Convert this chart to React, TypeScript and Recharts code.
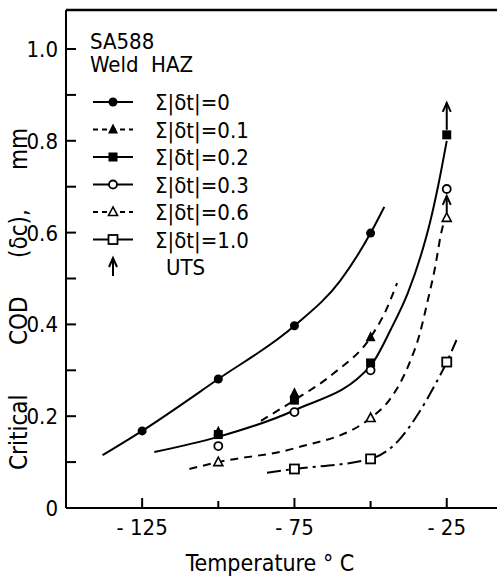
import { ComposedChart, Legend, Line, ReferenceLine, Scatter, XAxis, YAxis } from "recharts";

// axis ticks
const xTicks = [-125, -100, -75, -50, -25];
const xLabeled = [-125, -75, -25];
const yTicks = [0, 0.1, 0.2, 0.3, 0.4, 0.5, 0.6, 0.7, 0.8, 0.9, 1.0];
const yLabeled = [0, 0.2, 0.4, 0.6, 0.8, 1.0];

// measured points, one array per Σ|δt| level
const pts00 = [{ t: -125, v: 0.168 }, { t: -100, v: 0.281 }, { t: -75, v: 0.397 }, { t: -50, v: 0.599 }];
const pts01 = [{ t: -100, v: 0.166 }, { t: -75, v: 0.25 }, { t: -50, v: 0.372 }];
const pts02 = [{ t: -100, v: 0.16 }, { t: -75, v: 0.235 }, { t: -50, v: 0.316 }, { t: -25, v: 0.813 }];
const pts03 = [{ t: -100, v: 0.135 }, { t: -75, v: 0.209 }, { t: -50, v: 0.3 }, { t: -25, v: 0.695 }];
const pts06 = [{ t: -100, v: 0.1 }, { t: -50, v: 0.196 }, { t: -25, v: 0.632 }];
const pts10 = [{ t: -75, v: 0.085 }, { t: -50, v: 0.107 }, { t: -25, v: 0.318 }];
const utsMain = [{ t: -25, v: 0.813 }];
const utsSmall = [{ t: -25, v: 0.632 }];

// fitted curves as drawn
const curve00 = [{ t: -138, v: 0.115 }, { t: -125, v: 0.168 }, { t: -100, v: 0.281 }, { t: -75, v: 0.397 }, { t: -60, v: 0.495 }, { t: -50, v: 0.599 }, { t: -45.5, v: 0.656 }];
const curve01 = [{ t: -86, v: 0.19 }, { t: -75, v: 0.235 }, { t: -62, v: 0.294 }, { t: -50, v: 0.372 }, { t: -45, v: 0.43 }, { t: -41.3, v: 0.49 }];
const curve02 = [{ t: -121, v: 0.122 }, { t: -100, v: 0.155 }, { t: -75, v: 0.213 }, { t: -50, v: 0.31 }, { t: -43.3, v: 0.39 }, { t: -37.8, v: 0.468 }, { t: -33.5, v: 0.55 }, { t: -30.5, v: 0.622 }, { t: -27.7, v: 0.706 }, { t: -25, v: 0.8 }];
const curve06 = [{ t: -109.5, v: 0.085 }, { t: -100, v: 0.1 }, { t: -75, v: 0.13 }, { t: -50, v: 0.196 }, { t: -43.3, v: 0.24 }, { t: -37.8, v: 0.307 }, { t: -33.8, v: 0.381 }, { t: -31.2, v: 0.453 }, { t: -28.8, v: 0.525 }, { t: -26.8, v: 0.6 }, { t: -25.5, v: 0.632 }];
const curve10 = [{ t: -84, v: 0.077 }, { t: -75, v: 0.085 }, { t: -50, v: 0.107 }, { t: -40.7, v: 0.148 }, { t: -34.2, v: 0.207 }, { t: -29.2, v: 0.264 }, { t: -25, v: 0.318 }, { t: -21.8, v: 0.366 }];

const legendTitle = ["SA588", "Weld  HAZ"];
const legendLabels = ["Σ|δt|=0", "Σ|δt|=0.1", "Σ|δt|=0.2", "Σ|δt|=0.3", "Σ|δt|=0.6", "Σ|δt|=1.0", "UTS"];
const yTitleWords = ["Critical", "COD", "(δc),", "mm"];

const FONT = '"DejaVu Sans Condensed", "Liberation Sans Narrow", sans-serif';
const INK = "#000";

function marker(kind: string, cx: number, cy: number) {
  switch (kind) {
    case "dot":
      return <circle cx={cx} cy={cy} r={4.5} fill={INK} />;
    case "tri":
      return <polygon points={`${cx},${cy - 6} ${cx - 5},${cy + 4} ${cx + 5},${cy + 4}`} fill={INK} />;
    case "sq":
      return <rect x={cx - 4.5} y={cy - 4.5} width={9} height={9} fill={INK} />;
    case "ring":
      return <circle cx={cx} cy={cy} r={4} fill="#fff" stroke={INK} strokeWidth={1.8} />;
    case "otri":
      return <polygon points={`${cx},${cy - 5} ${cx - 4.5},${cy + 3.5} ${cx + 4.5},${cy + 3.5}`} fill="#fff" stroke={INK} strokeWidth={1.6} />;
    case "osq":
      return <rect x={cx - 4.5} y={cy - 4.5} width={9} height={9} fill="#fff" stroke={INK} strokeWidth={1.8} />;
    default:
      return <g />;
  }
}

const shapeOf = (kind: string) => (p: any) => marker(kind, p.cx, p.cy);

const arrowOf = (len: number) => (p: any) => {
  const top = p.cy - len;
  return (
    <g>
      <line x1={p.cx} x2={p.cx} y1={p.cy - 5} y2={top} stroke={INK} strokeWidth={2} />
      <path d={`M${p.cx - 4},${top + 9} L${p.cx},${top} L${p.cx + 4},${top + 9}`} fill="none" stroke={INK} strokeWidth={2} />
    </g>
  );
};

const legendStyle = [
  { dash: undefined, kind: "dot" },
  { dash: "5 4", kind: "tri" },
  { dash: undefined, kind: "sq" },
  { dash: undefined, kind: "ring" },
  { dash: "5 4", kind: "otri" },
  { dash: undefined, kind: "osq" },
];

function ChartLegend() {
  return (
    <svg width={300} height={300} style={{ display: "block" }}>
      {legendTitle.map((s, i) => (
        <text key={s} x={90} y={49 + i * 23} fontFamily={FONT} fontSize={22} fill={INK} style={{ whiteSpace: "pre" }}>
          {s}
        </text>
      ))}
      {legendLabels.map((s, i) => {
        const cy = 102 + i * 27.5;
        const st = legendStyle[i];
        return (
          <g key={s}>
            {st ? (
              <>
                <line x1={93} x2={133} y1={cy} y2={cy} stroke={INK} strokeWidth={2} strokeDasharray={st.dash} />
                {marker(st.kind, 113, cy)}
              </>
            ) : (
              <>
                <line x1={113} x2={113} y1={cy + 9} y2={cy - 9} stroke={INK} strokeWidth={2} />
                <path d={`M109,${cy} L113,${cy - 9} L117,${cy}`} fill="none" stroke={INK} strokeWidth={2} />
              </>
            )}
            <text x={i === 6 ? 166 : 155} y={cy + 8} fontFamily={FONT} fontSize={22} fill={INK}>
              {s}
            </text>
          </g>
        );
      })}
    </svg>
  );
}

const near = (arr: number[], v: number) => arr.some((a) => Math.abs(a - v) < 1e-6);

function YTick(props: any) {
  const { x, y, payload } = props;
  const v = payload.value as number;
  const major = near(yLabeled, v);
  return (
    <g>
      <line x1={x + 8} x2={x + 18} y1={y} y2={y} stroke={INK} strokeWidth={2} />
      {major && (
        <text x={x} y={y + 8} textAnchor="end" fontFamily={FONT} fontSize={22} fill={INK}>
          {v === 0 ? "0" : v.toFixed(1)}
        </text>
      )}
    </g>
  );
}

function XTick(props: any) {
  const { x, y, payload } = props;
  const v = payload.value as number;
  const major = near(xLabeled, v);
  return (
    <g>
      <line x1={x} x2={x} y1={y - 10} y2={y - (major ? 20 : 17)} stroke={INK} strokeWidth={2} />
      {major && (
        <text x={x} y={y + 17} textAnchor="middle" fontFamily={FONT} fontSize={22} fill={INK} style={{ whiteSpace: "pre" }}>
          {`- ${Math.abs(v)}`}
        </text>
      )}
    </g>
  );
}

const curves = [
  { data: curve00, dash: undefined },
  { data: curve01, dash: "8 6" },
  { data: curve02, dash: undefined },
  { data: curve06, dash: "8 6" },
  { data: curve10, dash: "14 5 3 5" },
];

const points = [
  { data: pts00, kind: "dot" },
  { data: pts02, kind: "sq" },
  { data: pts01, kind: "tri" },
  { data: pts03, kind: "ring" },
  { data: pts06, kind: "otri" },
  { data: pts10, kind: "osq" },
];

// screen y where each word of the y title ends (bottom, since it reads upwards)
const yTitleBottoms = [470, 345, 258, 170];

export default function App() {
  const cx = 19;
  const cy = 281;
  return (
    <div style={{ position: "absolute", left: 0, top: 0, background: "#fff" }}>
      <ComposedChart width={498} height={579} margin={{ top: 10, right: 1, bottom: 0, left: 0 }}>
        <XAxis
          dataKey="t"
          type="number"
          domain={[-150, -8.5]}
          ticks={xTicks}
          allowDataOverflow
          height={71}
          tickSize={0}
          tickMargin={10}
          tickLine={false}
          axisLine={{ stroke: INK, strokeWidth: 2 }}
          tick={<XTick />}
        />
        <YAxis
          type="number"
          domain={[0, 1.085]}
          ticks={yTicks}
          allowDataOverflow
          width={66}
          tickSize={0}
          tickMargin={8}
          tickLine={false}
          axisLine={{ stroke: INK, strokeWidth: 2 }}
          tick={<YTick />}
        />
        <ReferenceLine y={1.085} stroke={INK} strokeWidth={2.5} />
        {curves.map((c, i) => (
          <Line
            key={`c${i}`}
            data={c.data}
            dataKey="v"
            type="monotone"
            stroke={INK}
            strokeWidth={2}
            strokeDasharray={c.dash}
            dot={false}
            activeDot={false}
            legendType="none"
            isAnimationActive={false}
          />
        ))}
        <Scatter data={utsMain} dataKey="v" shape={arrowOf(32)} legendType="none" isAnimationActive={false} />
        <Scatter data={utsSmall} dataKey="v" shape={arrowOf(22)} legendType="none" isAnimationActive={false} />
        {points.map((p, i) => (
          <Scatter key={`p${i}`} data={p.data} dataKey="v" shape={shapeOf(p.kind)} legendType="none" isAnimationActive={false} />
        ))}
        <Legend
          layout="horizontal"
          verticalAlign="middle"
          align="center"
          wrapperStyle={{ left: 0, top: 0, width: 300, height: 300 }}
          content={() => <ChartLegend />}
        />
        <text transform={`rotate(-90, ${cx}, ${cy})`} dominantBaseline="central" fontFamily={FONT} fontSize={24} fill={INK}>
          {yTitleWords.map((w, i) => (
            <tspan key={w} x={cx + cy - yTitleBottoms[i]} y={cy}>
              {w}
            </tspan>
          ))}
        </text>
        <text x={270} y={563} textAnchor="middle" dominantBaseline="central" fontFamily={FONT} fontSize={23} fill={INK} style={{ whiteSpace: "pre" }}>
          Temperature ° C
        </text>
      </ComposedChart>
    </div>
  );
}
